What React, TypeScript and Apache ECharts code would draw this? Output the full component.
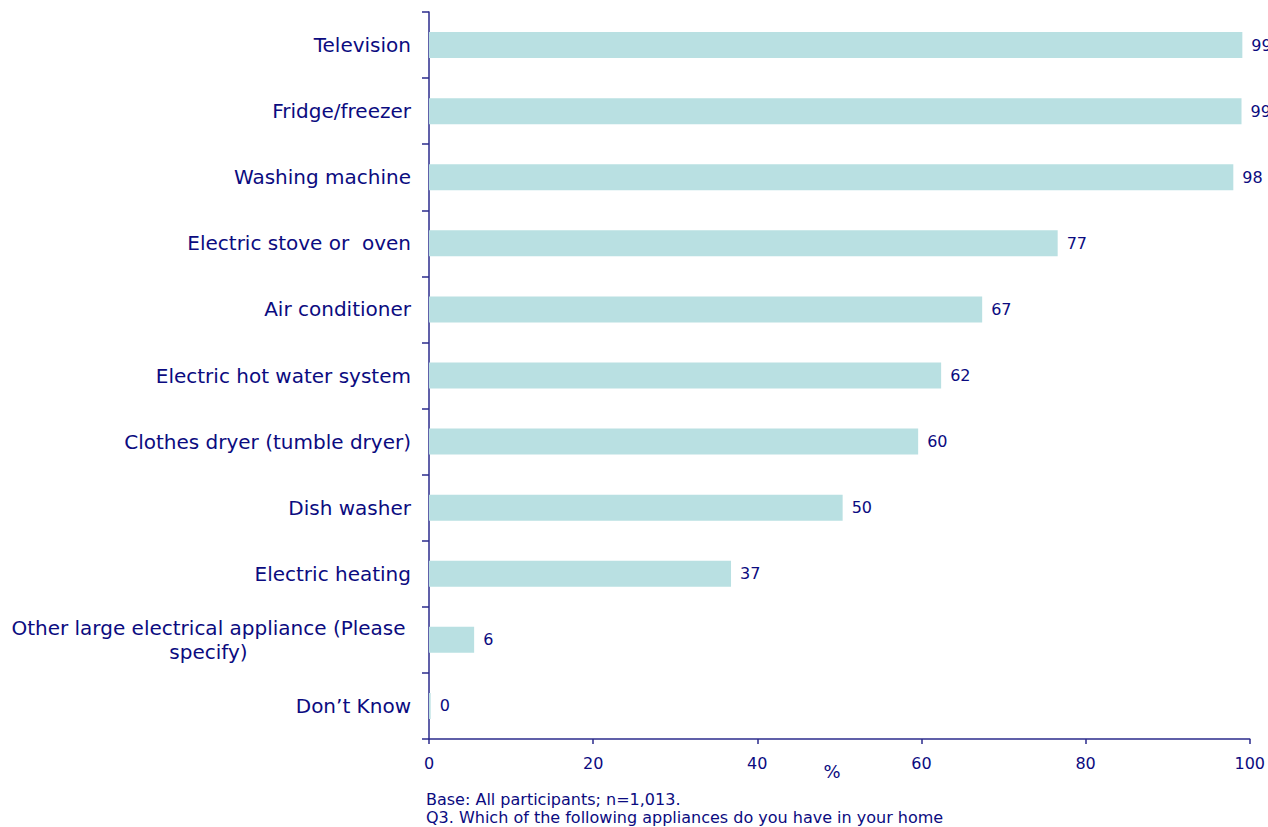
import React, { useEffect, useRef } from "react";
import * as echarts from "echarts";

const categories = [
  "Television",
  "Fridge/freezer",
  "Washing machine",
  "Electric stove or  oven",
  "Air conditioner",
  "Electric hot water system",
  "Clothes dryer (tumble dryer)",
  "Dish washer",
  "Electric heating",
  "Other large electrical appliance (Please\nspecify)",
  "Don’t Know",
];
const values = [99.1, 99.0, 98.0, 76.6, 67.4, 62.4, 59.6, 50.4, 36.8, 5.5, 0.2];
const xTicks = [0, 20, 40, 60, 80, 100];
const xAxisName = "%";
const footnotes = [
  "Base: All participants; n=1,013.",
  "Q3. Which of the following appliances do you have in your home",
];

const NAVY = "#0b0b80";
const AXIS = "#2b2b8c";
const FONT = "DejaVu Sans, Verdana, sans-serif";

export default function App() {
  const ref = useRef<HTMLDivElement>(null);
  useEffect(() => {
    if (!ref.current) return;
    const chart = echarts.init(ref.current, undefined, { renderer: "svg" });
    const cats = [...categories].reverse();
    const vals = [...values].reverse();
    chart.setOption({
      animation: false,
      grid: { left: 429, right: 18, top: 12, bottom: 88, containLabel: false },
      xAxis: {
        type: "value",
        min: xTicks[0],
        max: xTicks[xTicks.length - 1],
        interval: 20,
        splitLine: { show: false },
        axisLine: { show: true, lineStyle: { color: AXIS, width: 1.5 } },
        axisTick: { show: true, length: 5, lineStyle: { color: AXIS, width: 1.5 } },
        axisLabel: { color: NAVY, fontSize: 16, fontFamily: FONT, margin: 16 },
      },
      yAxis: {
        type: "category",
        data: cats,
        axisLine: { show: true, lineStyle: { color: AXIS, width: 1.5 } },
        axisTick: { show: true, length: 7, lineStyle: { color: AXIS, width: 1.5 } },
        axisLabel: {
          color: NAVY,
          fontSize: 20,
          fontFamily: FONT,
          margin: 18,
          lineHeight: 24,
          formatter: (v: string) =>
            v.includes("\n")
              ? v
                  .split("\n")
                  .map((l) => "{c|" + l + "}")
                  .join("\n")
              : v,
          rich: {
            c: { width: 405, align: "center", color: NAVY, fontSize: 20, fontFamily: FONT, lineHeight: 24 },
          },
        },
      },
      series: [
        {
          type: "bar",
          data: vals,
          barWidth: 26,
          itemStyle: { color: "#b9e0e2" },
          label: {
            show: true,
            position: "right",
            distance: 9,
            color: NAVY,
            fontSize: 16,
            fontFamily: FONT,
            formatter: (p: any) => String(Math.round(p.value)),
          },
        },
      ],
      graphic: [
        {
          type: "text",
          x: 832,
          y: 771,
          style: {
            text: xAxisName,
            fill: NAVY,
            fontSize: 18,
            fontFamily: FONT,
            align: "center",
            verticalAlign: "middle",
          },
        },
        ...footnotes.map((t, i) => ({
          type: "text",
          left: 426,
          top: 791 + i * 18,
          style: { text: t, fill: NAVY, fontSize: 16, fontFamily: FONT },
        })),
      ],
    });
    return () => chart.dispose();
  }, []);
  return (
    <div
      ref={ref}
      style={{ position: "fixed", left: 0, top: 0, width: 1268, height: 827, background: "#fff" }}
    />
  );
}
